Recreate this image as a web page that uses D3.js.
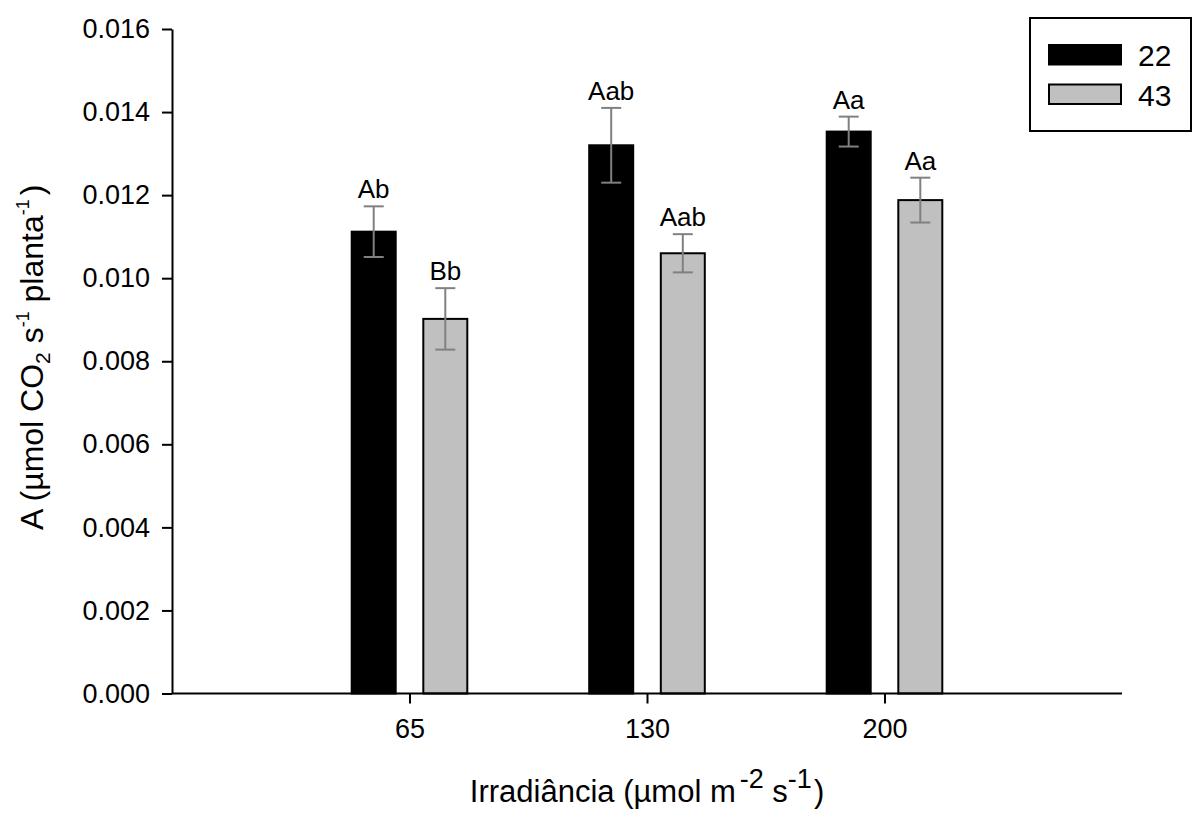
<!DOCTYPE html>
<html>
<head>
<meta charset="utf-8">
<script src="https://cdn.jsdelivr.net/npm/d3@7"></script>
<style>
  html, body { margin: 0; padding: 0; background: #fff; }
  svg { display: block; font-family: "Liberation Sans", Arial, sans-serif; }
</style>
</head>
<body>
<svg id="chart" width="1192" height="819"></svg>
<script>
// ---- data ----
const categories = ["65", "130", "200"];
const seriesNames = ["22", "43"];
const values22 = [0.01112, 0.01320, 0.01353];
const values43 = [0.00902, 0.01060, 0.01188];
const errors22 = [0.00061, 0.00090, 0.00036];
const errors43 = [0.00074, 0.00046, 0.00054];
const letters22 = ["Ab", "Aab", "Aa"];
const letters43 = ["Bb", "Aab", "Aa"];
const yTicks = [0, 0.002, 0.004, 0.006, 0.008, 0.010, 0.012, 0.014, 0.016];

const seriesFill = {"22": "#000000", "43": "#c0c0c0"};

const svg = d3.select("#chart");
const mLeft = 172, mRight = 1122, mTop = 29, mBottom = 693.5;

const x = d3.scalePoint().domain(categories).range([mLeft, mRight]).padding(1);
const xInner = d3.scaleBand().domain(seriesNames).range([-57.8, 57.8]).paddingInner(0.3855).paddingOuter(0);
const y = d3.scaleLinear().domain([0, 0.016]).range([mBottom, mTop]);

const rows = [];
categories.forEach((c, i) => {
  rows.push({cat: c, s: "22", v: values22[i], e: errors22[i], lab: letters22[i]});
  rows.push({cat: c, s: "43", v: values43[i], e: errors43[i], lab: letters43[i]});
});

// bars
svg.append("g").selectAll("rect").data(rows).join("rect")
  .attr("x", d => x(d.cat) + xInner(d.s))
  .attr("width", xInner.bandwidth())
  .attr("y", d => y(d.v))
  .attr("height", d => y(0) - y(d.v))
  .attr("fill", d => seriesFill[d.s])
  .attr("stroke", "#000")
  .attr("stroke-width", 2);

// error bars
const eg = svg.append("g").attr("stroke", "#808080").attr("stroke-width", 2);
rows.forEach(d => {
  const cx = x(d.cat) + xInner(d.s) + xInner.bandwidth() / 2;
  eg.append("line").attr("x1", cx).attr("x2", cx).attr("y1", y(d.v + d.e)).attr("y2", y(d.v - d.e));
  eg.append("line").attr("x1", cx - 10).attr("x2", cx + 10).attr("y1", y(d.v + d.e)).attr("y2", y(d.v + d.e));
  eg.append("line").attr("x1", cx - 10).attr("x2", cx + 10).attr("y1", y(d.v - d.e)).attr("y2", y(d.v - d.e));
});

// letters
svg.append("g").selectAll("text").data(rows).join("text")
  .attr("x", d => x(d.cat) + xInner(d.s) + xInner.bandwidth() / 2)
  .attr("y", d => y(d.v + d.e) - 8)
  .attr("text-anchor", "middle")
  .attr("font-size", 26)
  .attr("fill", "#000")
  .text(d => d.lab);

// axes
const yAxis = d3.axisLeft(y).tickValues(yTicks).tickFormat(d3.format(".3f")).tickSize(10).tickSizeOuter(0).tickPadding(12);
const gy = svg.append("g").attr("transform", `translate(${mLeft},0)`).call(yAxis);
gy.selectAll("text").attr("font-size", 27).attr("font-family", "Liberation Sans, Arial, sans-serif").attr("fill", "#000");
gy.selectAll("line, path").attr("stroke", "#000").attr("stroke-width", 2);

const xAxis = d3.axisBottom(x).tickSize(10).tickSizeOuter(0).tickPadding(15);
const gx = svg.append("g").attr("transform", `translate(0,${mBottom})`).call(xAxis);
gx.select("path").attr("d", `M${mLeft},0H${mRight}`);
gx.selectAll("text").attr("font-size", 27).attr("font-family", "Liberation Sans, Arial, sans-serif").attr("fill", "#000");
gx.selectAll("line, path").attr("stroke", "#000").attr("stroke-width", 2);

// x title
const xt = svg.append("text").attr("x", (mLeft + mRight) / 2).attr("y", 802)
  .attr("text-anchor", "middle").attr("font-size", 31).attr("fill", "#000");
xt.append("tspan").text("Irradiância (µmol m");
xt.append("tspan").attr("font-size", 27).attr("dy", -14).attr("dx", 4).text("-2");
xt.append("tspan").attr("dy", 14).text(" s");
xt.append("tspan").attr("font-size", 27).attr("dy", -14).text("-1");
xt.append("tspan").attr("dy", 14).attr("dx", 2).text(")");

// y title
const yt = svg.append("text")
  .attr("transform", `translate(43,${(mTop + mBottom) / 2 - 4}) rotate(-90)`)
  .attr("text-anchor", "middle").attr("font-size", 32).attr("fill", "#000");
yt.append("tspan").text("A (µmol CO");
yt.append("tspan").attr("font-size", 21).attr("dy", 7).text("2");
yt.append("tspan").attr("dy", -7).text(" s");
yt.append("tspan").attr("font-size", 18).attr("dy", -14).text("-1");
yt.append("tspan").attr("dy", 14).text("  planta");
yt.append("tspan").attr("font-size", 18).attr("dy", -14).text("-1");
yt.append("tspan").attr("dy", 14).attr("dx", 4).text(")");

// legend
const lg = svg.append("g");
lg.append("rect").attr("x", 1030).attr("y", 18).attr("width", 161).attr("height", 113)
  .attr("fill", "#fff").attr("stroke", "#000").attr("stroke-width", 2);
seriesNames.forEach((s, i) => {
  const yy = 45 + i * 39.5;
  lg.append("rect").attr("x", 1049).attr("y", yy).attr("width", 72).attr("height", 19.5)
    .attr("fill", seriesFill[s]).attr("stroke", "#000").attr("stroke-width", 2);
  lg.append("text").attr("x", 1138).attr("y", yy + 21).attr("font-size", 30).attr("fill", "#000").text(s);
});
</script>
</body>
</html>
